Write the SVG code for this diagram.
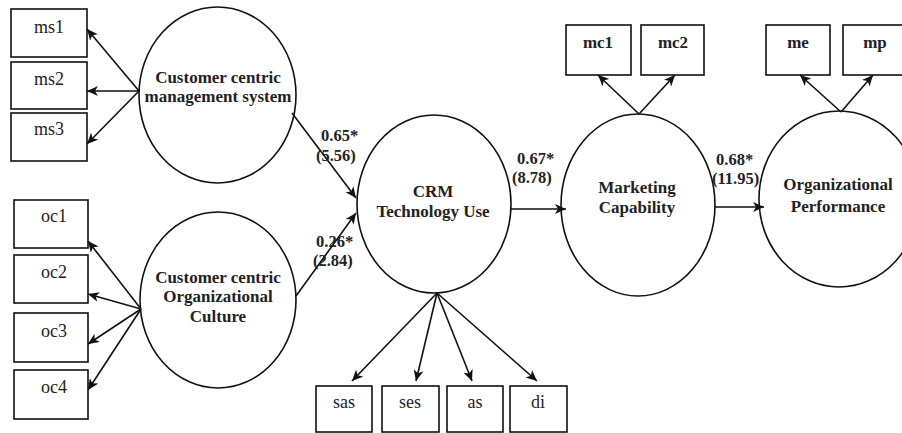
<svg xmlns="http://www.w3.org/2000/svg" width="902" height="433" viewBox="0 0 902 433">
<style>
.bg{fill:#ffffff}
.box{fill:#ffffff;stroke:#111111;stroke-width:1.6}
.lat{fill:#ffffff;stroke:#111111;stroke-width:1.6}
.ind{font-family:"Liberation Serif","Times New Roman",serif;font-size:18px;fill:#222222;text-anchor:middle}
.indb{font-family:"Liberation Serif","Times New Roman",serif;font-size:17px;font-weight:bold;fill:#222222;text-anchor:middle}
.lt{font-family:"Liberation Serif","Times New Roman",serif;font-size:17px;font-weight:bold;fill:#222222;text-anchor:middle}
.coef{font-family:"Liberation Serif","Times New Roman",serif;font-size:16.5px;font-weight:bold;fill:#222222}
.con line{stroke:#111111;stroke-width:1.6;marker-end:url(#ah)}
</style>
<defs>
<marker id="ah" markerUnits="userSpaceOnUse" markerWidth="12" markerHeight="10" refX="11" refY="5" orient="auto">
<path d="M0,0 L11,5 L0,10 L3,5 z" fill="#111111"/>
</marker>
</defs>
<rect class="bg" x="0" y="0" width="902" height="433"/>

<g id="ms1"><rect class="box" x="11" y="9" width="76" height="48"/><text class="ind" x="49" y="33">ms1</text></g>
<g id="ms2"><rect class="box" x="11" y="62" width="76" height="47"/><text class="ind" x="49" y="85">ms2</text></g>
<g id="ms3"><rect class="box" x="11" y="113" width="76" height="48"/><text class="ind" x="49" y="135">ms3</text></g>

<g id="oc1"><rect class="box" x="14" y="200" width="74" height="48"/><text class="ind" x="54" y="222">oc1</text></g>
<g id="oc2"><rect class="box" x="14" y="255" width="74" height="48"/><text class="ind" x="54" y="278">oc2</text></g>
<g id="oc3"><rect class="box" x="14" y="313" width="74" height="49"/><text class="ind" x="54" y="337">oc3</text></g>
<g id="oc4"><rect class="box" x="14" y="370" width="74" height="49"/><text class="ind" x="54" y="393">oc4</text></g>

<g id="ccms"><ellipse class="lat" cx="217.5" cy="95" rx="78.5" ry="88"/>
<text class="lt" x="218" y="83">Customer centric</text>
<text class="lt" x="218" y="102">management system</text></g>

<g id="ccoc"><ellipse class="lat" cx="218" cy="300" rx="78" ry="88"/>
<text class="lt" x="218" y="283">Customer centric</text>
<text class="lt" x="218" y="302">Organizational</text>
<text class="lt" x="218" y="322">Culture</text></g>

<g id="crm"><ellipse class="lat" cx="434" cy="204" rx="77" ry="89"/>
<text class="lt" x="433" y="197">CRM</text>
<text class="lt" x="433" y="217">Technology Use</text></g>

<g id="mcap"><ellipse class="lat" cx="638" cy="205" rx="77" ry="91"/>
<text class="lt" x="637" y="193">Marketing</text>
<text class="lt" x="637" y="213">Capability</text></g>

<g id="orgp"><ellipse class="lat" cx="839" cy="199" rx="80" ry="88"/>
<text class="lt" x="838" y="190">Organizational</text>
<text class="lt" x="838" y="212">Performance</text></g>

<g id="mc1"><rect class="box" x="566" y="25" width="65" height="50"/><text class="indb" x="598" y="48">mc1</text></g>
<g id="mc2"><rect class="box" x="641" y="25" width="63" height="50"/><text class="indb" x="673" y="48">mc2</text></g>
<g id="me"><rect class="box" x="766" y="25" width="64" height="50"/><text class="indb" x="798" y="48">me</text></g>
<g id="mp"><rect class="box" x="843" y="25" width="72" height="50"/><text class="indb" x="875" y="48">mp</text></g>

<g id="sas"><rect class="box" x="316" y="386" width="56" height="46"/><text class="ind" x="344" y="408">sas</text></g>
<g id="ses"><rect class="box" x="382" y="386" width="57" height="46"/><text class="ind" x="410" y="408">ses</text></g>
<g id="as"><rect class="box" x="447" y="386" width="56" height="46"/><text class="ind" x="475" y="408">as</text></g>
<g id="di"><rect class="box" x="510" y="386" width="57" height="46"/><text class="ind" x="538" y="408">di</text></g>

<g id="connectors" class="con">
<line x1="139" y1="91" x2="87" y2="29"/>
<line x1="139" y1="91" x2="87" y2="91"/>
<line x1="139" y1="91" x2="87" y2="144"/>
<line x1="141" y1="309" x2="88" y2="241"/>
<line x1="141" y1="309" x2="88" y2="294"/>
<line x1="141" y1="309" x2="88" y2="344"/>
<line x1="141" y1="309" x2="88" y2="390"/>
<line x1="292" y1="113" x2="356" y2="198"/>
<line x1="296" y1="296" x2="356" y2="213"/>
<line x1="511" y1="209" x2="566" y2="209"/>
<line x1="715" y1="207" x2="764" y2="207"/>
<line x1="639" y1="114" x2="598" y2="75"/>
<line x1="639" y1="114" x2="675" y2="75"/>
<line x1="841" y1="112" x2="800" y2="75"/>
<line x1="841" y1="112" x2="873" y2="75"/>
<line x1="437" y1="293" x2="352" y2="381"/>
<line x1="437" y1="293" x2="416" y2="381"/>
<line x1="437" y1="293" x2="472" y2="381"/>
<line x1="437" y1="293" x2="537" y2="381"/>
</g>

<g id="labels">
<text class="coef" x="321" y="141">0.65*</text>
<text class="coef" x="316" y="161">(5.56)</text>
<text class="coef" x="316" y="247">0.26*</text>
<text class="coef" x="313" y="266">(2.84)</text>
<text class="coef" x="517" y="164">0.67*</text>
<text class="coef" x="512" y="183">(8.78)</text>
<text class="coef" x="716" y="165">0.68*</text>
<text class="coef" x="712" y="184">(11.95)</text>
</g>
</svg>
